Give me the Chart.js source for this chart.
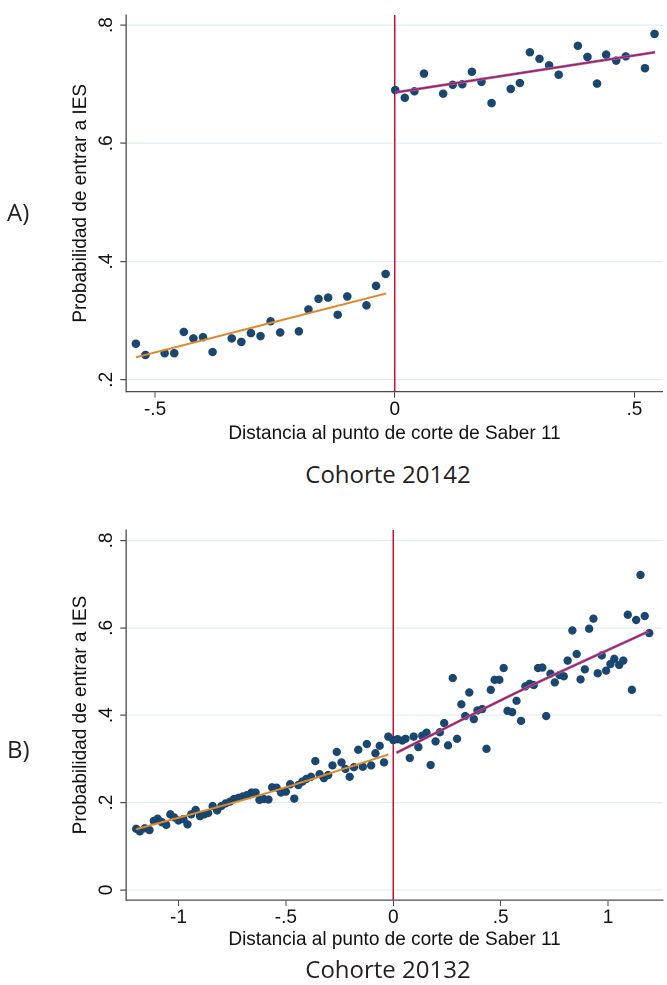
<!DOCTYPE html>
<html><head><meta charset="utf-8">
<script src="https://cdn.jsdelivr.net/npm/chart.js@4.4.0/dist/chart.umd.min.js"></script>
<style>
html,body{margin:0;padding:0;background:#fff;}
body{width:667px;height:985px;position:relative;overflow:hidden;}
canvas{position:absolute;left:0;}
.lbl{position:absolute;font-family:"Open Sans",sans-serif;color:#231f20;white-space:nowrap;line-height:1;}
.ctr{left:188px;width:400px;text-align:center;}
</style></head><body>
<canvas id="cA" width="667" height="450" style="top:0px;width:667px;height:450px"></canvas>
<canvas id="cB" width="667" height="450" style="top:509px;width:667px;height:450px"></canvas>
<div class="lbl" style="left:7px;top:200px;font-size:24px">A)</div>
<div class="lbl ctr" style="top:462px;font-size:24px">Cohorte 20142</div>
<div class="lbl" style="left:7px;top:737px;font-size:24px">B)</div>
<div class="lbl ctr" style="top:957px;font-size:24px">Cohorte 20132</div>
<script>
// ---------- Panel A (Cohorte 20142) ----------
const xLeftA = [-0.540,-0.520,-0.480,-0.460,-0.440,-0.420,-0.400,-0.380,-0.340,-0.320,-0.300,-0.280,-0.259,-0.239,-0.200,-0.180,-0.159,-0.139,-0.119,-0.099,-0.059,-0.039,-0.019];
const yLeftA = [0.261,0.242,0.245,0.245,0.281,0.270,0.272,0.247,0.270,0.264,0.279,0.274,0.299,0.280,0.282,0.319,0.337,0.339,0.310,0.341,0.326,0.359,0.379];
const xRightA = [0.001,0.021,0.041,0.061,0.101,0.121,0.141,0.161,0.181,0.202,0.242,0.261,0.282,0.302,0.322,0.342,0.382,0.402,0.422,0.441,0.462,0.482,0.522,0.542];
const yRightA = [0.690,0.677,0.688,0.718,0.684,0.699,0.700,0.721,0.704,0.668,0.692,0.702,0.754,0.743,0.732,0.716,0.765,0.746,0.701,0.750,0.740,0.747,0.727,0.785];
const fitLeftXA = [-0.540,-0.018];
const fitLeftYA = [0.238,0.346];
const fitRightXA = [0.001,0.543];
const fitRightYA = [0.686,0.754];
const xTicksA = [-0.5,0,0.5];
const xTickLabelsA = ["-.5","0",".5"];
const yTicksA = [0.2,0.4,0.6,0.8];
const yTickLabelsA = [".2",".4",".6",".8"];

// ---------- Panel B (Cohorte 20132) ----------
const xLeftB = [-1.197,-1.180,-1.157,-1.135,-1.115,-1.097,-1.077,-1.057,-1.038,-1.020,-1.000,-0.977,-0.958,-0.941,-0.920,-0.900,-0.880,-0.862,-0.841,-0.820,-0.800,-0.781,-0.761,-0.742,-0.720,-0.700,-0.682,-0.660,-0.641,-0.623,-0.603,-0.581,-0.564,-0.543,-0.523,-0.500,-0.480,-0.461,-0.442,-0.423,-0.405,-0.383,-0.363,-0.343,-0.323,-0.303,-0.283,-0.263,-0.241,-0.223,-0.203,-0.183,-0.163,-0.142,-0.123,-0.103,-0.083,-0.063,-0.043,-0.023];
const yLeftB = [0.140,0.134,0.141,0.137,0.158,0.163,0.155,0.149,0.173,0.166,0.159,0.162,0.150,0.173,0.183,0.169,0.173,0.176,0.192,0.182,0.192,0.198,0.202,0.208,0.211,0.214,0.217,0.223,0.223,0.206,0.208,0.207,0.235,0.234,0.223,0.225,0.242,0.209,0.240,0.248,0.254,0.259,0.295,0.265,0.256,0.263,0.285,0.316,0.292,0.277,0.259,0.281,0.321,0.282,0.334,0.285,0.313,0.330,0.292,0.351];
const xRightB = [0.000,0.020,0.042,0.057,0.077,0.095,0.117,0.135,0.155,0.174,0.197,0.217,0.237,0.255,0.277,0.297,0.317,0.335,0.354,0.375,0.392,0.414,0.434,0.454,0.472,0.494,0.514,0.532,0.554,0.574,0.595,0.615,0.635,0.654,0.674,0.694,0.712,0.732,0.752,0.774,0.794,0.812,0.834,0.854,0.872,0.892,0.912,0.932,0.952,0.971,0.991,1.011,1.029,1.052,1.071,1.092,1.111,1.131,1.151,1.171,1.192];
const yRightB = [0.343,0.345,0.342,0.346,0.302,0.351,0.327,0.353,0.360,0.286,0.340,0.361,0.382,0.331,0.485,0.346,0.425,0.398,0.452,0.391,0.411,0.414,0.323,0.458,0.481,0.481,0.508,0.410,0.407,0.433,0.387,0.466,0.472,0.469,0.508,0.509,0.398,0.495,0.475,0.492,0.489,0.525,0.594,0.540,0.482,0.505,0.598,0.621,0.496,0.537,0.502,0.517,0.529,0.515,0.525,0.630,0.458,0.618,0.721,0.627,0.588];
const fitLeftXB = [-1.197,-0.600,-0.023];
const fitLeftYB = [0.139,0.220,0.310];
const fitRightXB = [0.015,0.600,1.189];
const fitRightYB = [0.314,0.458,0.592];
const xTicksB = [-1,-0.5,0,0.5,1];
const xTickLabelsB = ["-1","-.5","0",".5","1"];
const yTicksB = [0,0.2,0.4,0.6,0.8];
const yTickLabelsB = ["0",".2",".4",".6",".8"];

const cutoff = 0;
const xTitle = "Distancia al punto de corte de Saber 11";
const yTitle = "Probabilidad de entrar a IES";

const NAVY = "#1a476f", ORANGE = "#e0892b", RED = "#c8102e", LAV = "#7d6fd6";
const AXIS = "#4a4a4a", GRID = "#e2eef0", TXT = "#111";
const FONT = '"Liberation Sans", Arial, sans-serif';

const zip = (xs, ys) => xs.map((x, i) => ({x: x, y: ys[i]}));

const cutoffPlugin = {
  id: "cutoff",
  beforeDatasetsDraw(chart, args, opts) {
    const {ctx, chartArea, scales} = chart;
    const px = scales.x.getPixelForValue(opts.value);
    ctx.save();
    ctx.strokeStyle = RED;
    ctx.lineWidth = 1.5;
    ctx.beginPath();
    ctx.moveTo(px, chartArea.top);
    ctx.lineTo(px, chartArea.bottom);
    ctx.stroke();
    ctx.restore();
  }
};

function makeChart(id, p) {
  const datasets = [
    {type: "line", data: zip(p.flx, p.fly), borderColor: ORANGE, borderWidth: 2, pointRadius: 0, fill: false, cubicInterpolationMode: "monotone", order: 0},
    {type: "line", data: zip(p.frx, p.fry), borderColor: RED, borderWidth: 1.3, pointRadius: 0, fill: false, cubicInterpolationMode: "monotone", order: 0},
    {type: "line", data: zip(p.frx, p.fry), borderColor: LAV, borderWidth: 2.8, pointRadius: 0, fill: false, cubicInterpolationMode: "monotone", order: 1},
    {type: "scatter", data: zip(p.lx, p.ly), backgroundColor: NAVY, borderWidth: 0, pointRadius: p.r, order: 2},
    {type: "scatter", data: zip(p.rx, p.ry), backgroundColor: NAVY, borderWidth: 0, pointRadius: p.r, order: 2}
  ];
  return new Chart(document.getElementById(id), {
    type: "scatter",
    data: {datasets},
    plugins: [cutoffPlugin],
    options: {
      responsive: false, maintainAspectRatio: false, animation: false, devicePixelRatio: 2,
      events: [],
      layout: {padding: {left: 0, right: 0, top: p.padTop, bottom: 0}},
      plugins: {legend: {display: false}, tooltip: {enabled: false}, cutoff: {value: cutoff}},
      scales: {
        x: {
          type: "linear", position: "bottom", min: p.xmin, max: p.xmax,
          afterBuildTicks: s => { s.ticks = p.xt.map(v => ({value: v})); },
          afterFit: s => { s.height = p.xh; s.paddingLeft = 0; s.paddingRight = 0; },
          ticks: {callback: (v, i) => p.xtl[i], color: TXT, font: {family: FONT, size: 19}, padding: p.xpad, maxRotation: 0, autoSkip: false},
          grid: {display: true, drawOnChartArea: false, drawTicks: true, tickLength: 6, color: AXIS, tickColor: AXIS},
          border: {display: true, color: AXIS, width: 1.3},
          title: {display: true, text: xTitle, color: TXT, font: {family: FONT, size: 19}, padding: {top: 0, bottom: p.xtpad}}
        },
        y: {
          type: "linear", position: "left", min: p.ymin, max: p.ymax,
          afterBuildTicks: s => { s.ticks = p.yt.map(v => ({value: v})); },
          afterFit: s => { s.width = 126.3; s.paddingTop = 0; s.paddingBottom = 0; },
          ticks: {callback: (v, i) => p.ytl[i], color: TXT, font: {family: FONT, size: 19}, padding: 5.5, minRotation: 90, maxRotation: 90, crossAlign: "center", autoSkip: false},
          grid: {display: true, drawOnChartArea: true, drawTicks: true, tickLength: 6, color: GRID, tickColor: AXIS, lineWidth: 1.2},
          border: {display: true, color: AXIS, width: 1.3},
          title: {display: true, text: yTitle, color: TXT, font: {family: FONT, size: 19}, padding: {top: 69.6, bottom: 0}}
        }
      }
    }
  });
}

makeChart("cA", {
  lx: xLeftA, ly: yLeftA, rx: xRightA, ry: yRightA,
  flx: fitLeftXA, fly: fitLeftYA, frx: fitRightXA, fry: fitRightYA,
  xt: xTicksA, xtl: xTickLabelsA, yt: yTicksA, ytl: yTickLabelsA,
  xmin: -0.560, xmax: 0.559, ymin: 0.180, ymax: 0.817,
  padTop: 15, xh: 58.4, xpad: 1, xtpad: 4.6, r: 4.3
});
makeChart("cB", {
  lx: xLeftB, ly: yLeftB, rx: xRightB, ry: yRightB,
  flx: fitLeftXB, fly: fitLeftYB, frx: fitRightXB, fry: fitRightYB,
  xt: xTicksB, xtl: xTickLabelsB, yt: yTicksB, ytl: yTickLabelsB,
  xmin: -1.243, xmax: 1.255, ymin: -0.023, ymax: 0.824,
  padTop: 21, xh: 59, xpad: 0.6, xtpad: 7.6, r: 4.2
});
</script>
</body></html>
